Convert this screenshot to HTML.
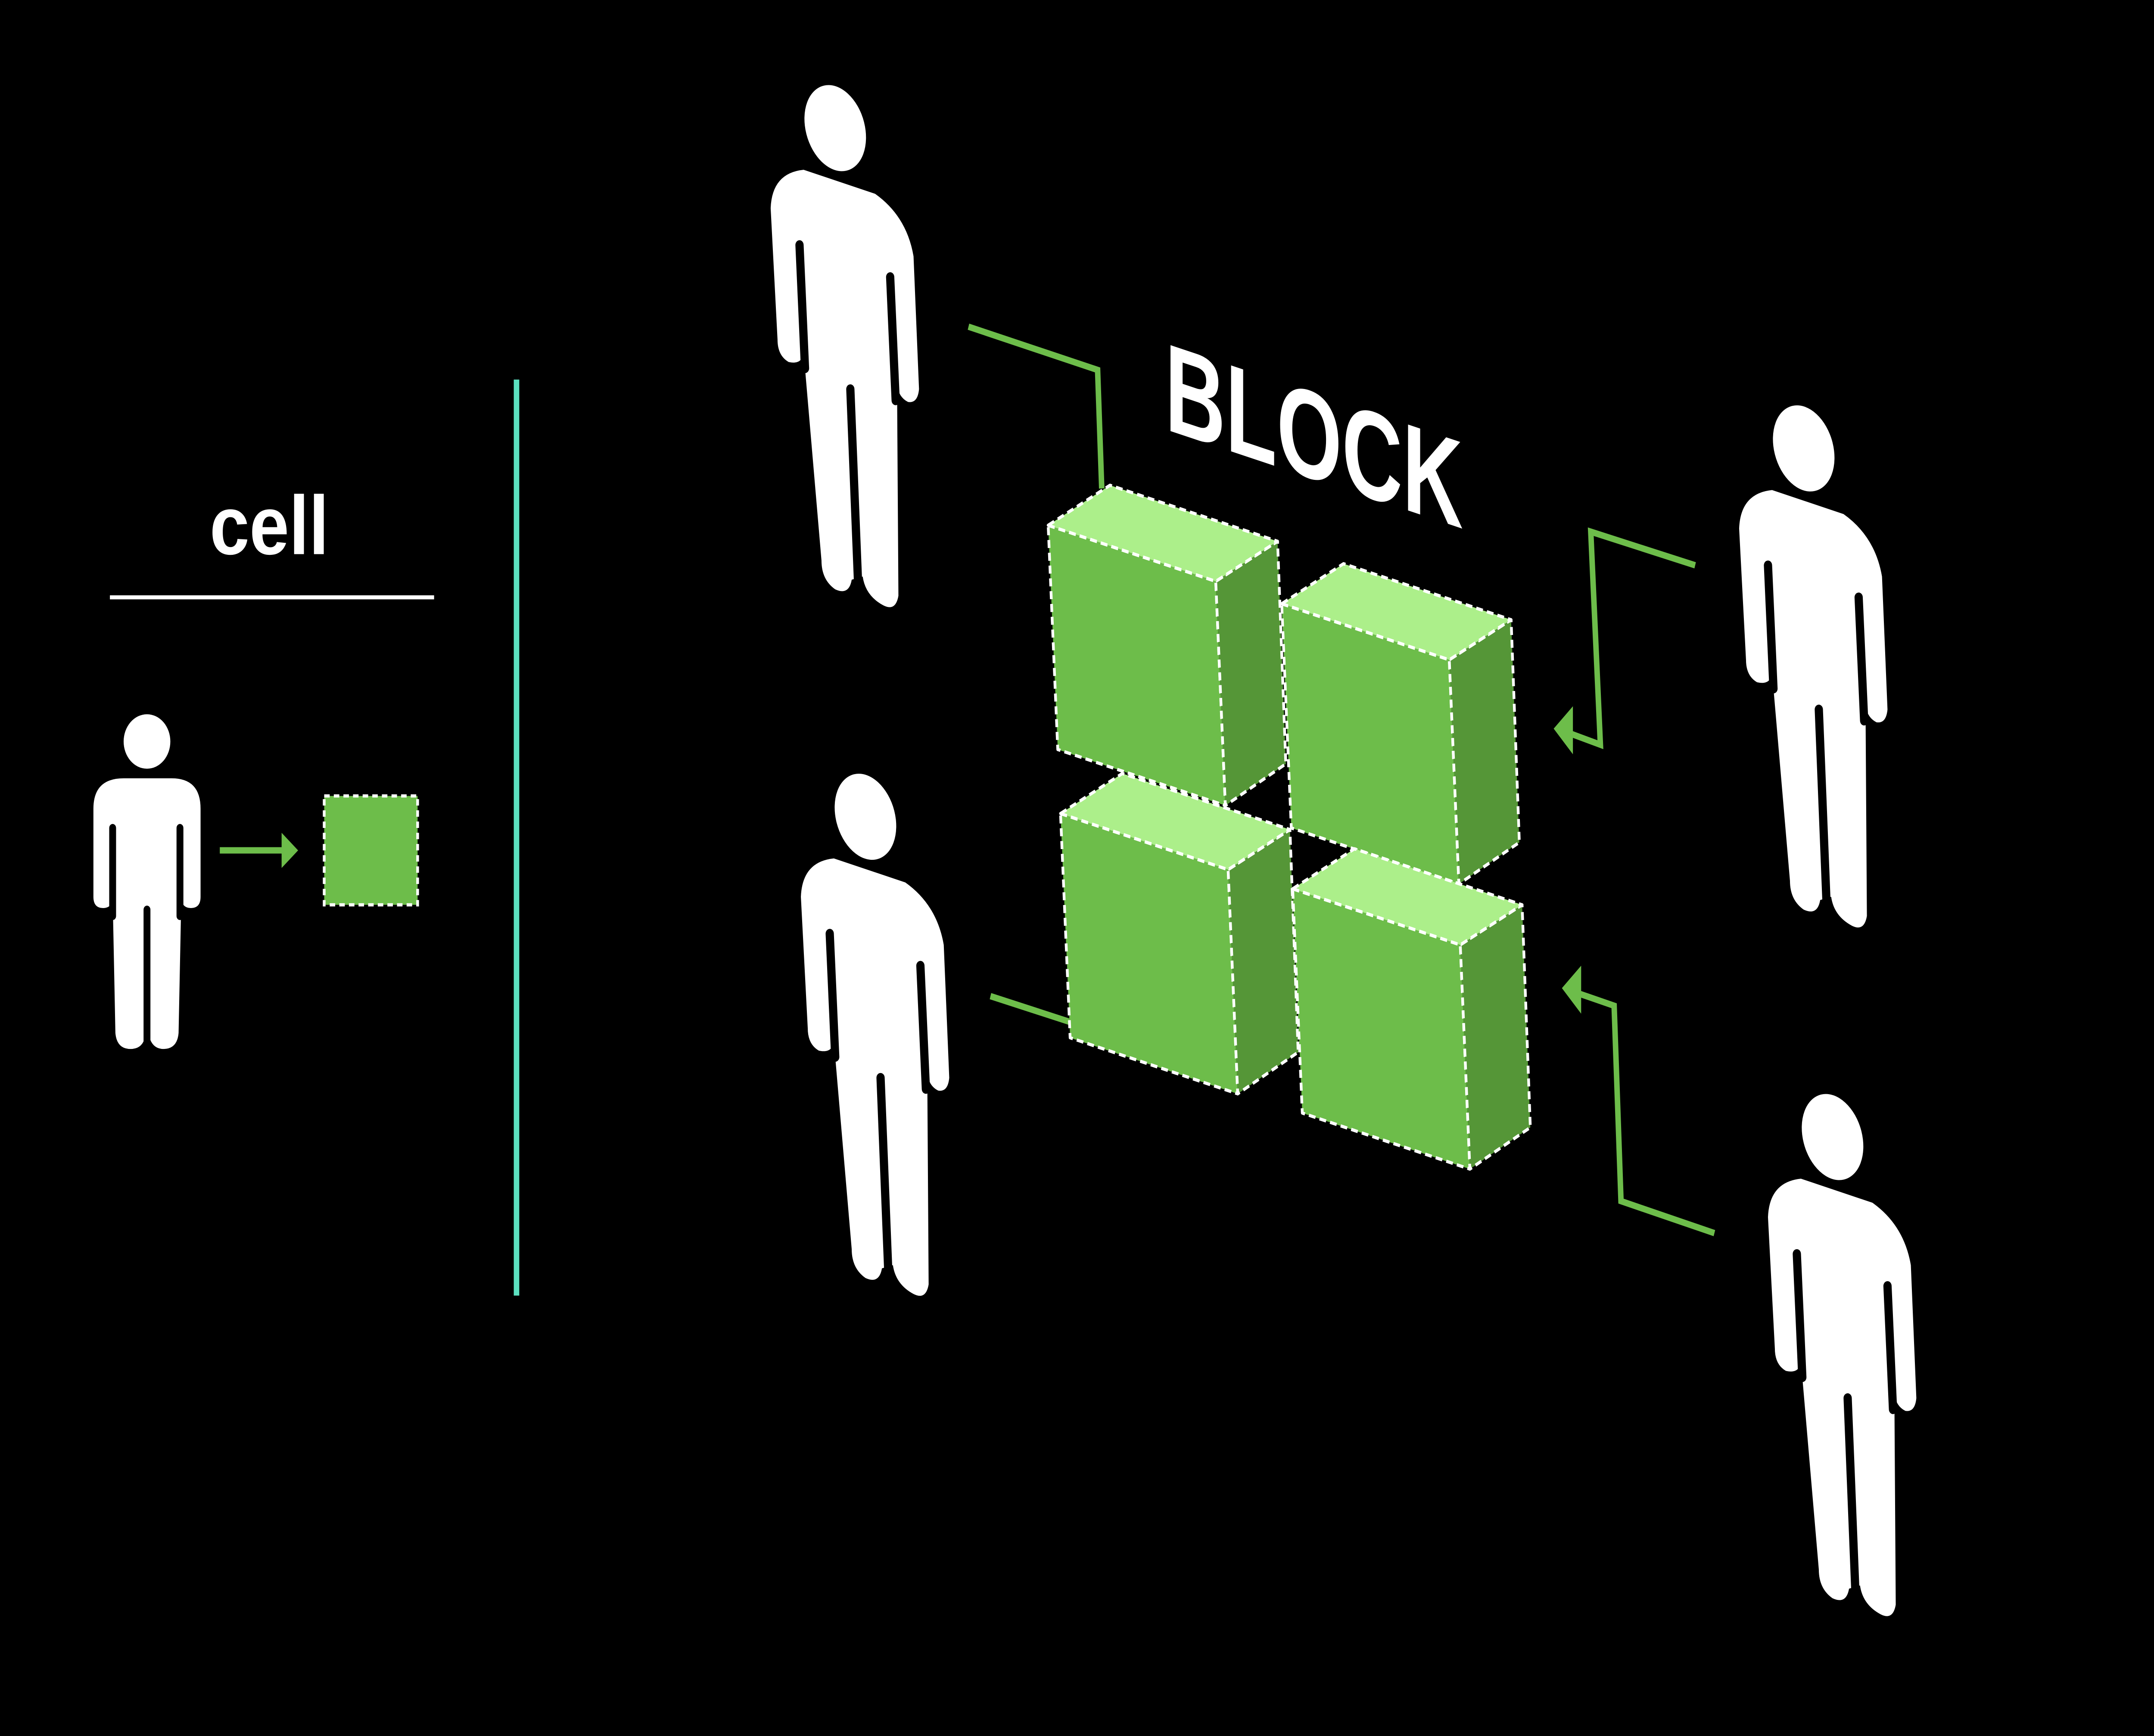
<!DOCTYPE html>
<html><head><meta charset="utf-8"><style>
html,body{margin:0;padding:0;background:#000;overflow:hidden;width:100%;height:100%;}
svg{display:block;position:fixed;left:0;top:0;width:100vw;height:100vh;}
</style></head><body>
<svg viewBox="0 0 1568 1084" preserveAspectRatio="none" xmlns="http://www.w3.org/2000/svg">
<rect width="1568" height="1084" fill="#000"/>
<defs>
<g id="p">
<ellipse cx="608" cy="80" rx="21" ry="28" transform="rotate(-25 608 80)" fill="#fff"/>
<path d="M561,130 Q562,108 585,106 L637,121 Q660,135 665,160 L669,243 Q668,252 661,251 Q654,248 653,240 L654,372 Q652,382 643,378 Q630,372 628,360 L620,362 Q618,372 608,368 Q598,362 598,350 L585,220 Q584,228 574,226 Q566,222 566,212 Z" fill="#fff"/>
<g stroke="#000" stroke-width="6" stroke-linecap="round">
<line x1="582" y1="153" x2="586" y2="230"/>
<line x1="648" y1="173" x2="652" y2="250"/>
<line x1="619" y1="243" x2="625" y2="372"/>
</g>
</g>
<g id="cube" stroke="#fff" stroke-width="2" stroke-dasharray="5,3" stroke-linejoin="round">
<polygon points="763,328 885,363 892,503 770,468" fill="#6dbd4a"/>
<polygon points="885,363 930,338 936,477 892,503" fill="#559637"/>
<polygon points="763,328 808,303 930,338 885,363" fill="#acef8a"/>
</g>
</defs>

<text x="196" y="346" font-family="Liberation Sans, sans-serif" font-weight="bold" font-size="52" fill="#fff" text-anchor="middle">cell</text>
<line x1="80" y1="373" x2="316" y2="373" stroke="#fff" stroke-width="2.5"/>
<circle cx="107" cy="463" r="17" fill="#fff"/>
<path d="M68,505 Q68,486 90,486 L125,486 Q146,486 146,505 L146,560 Q146,567 139,567 Q132,567 132,560 L130,645 Q129,655 119,655 Q110,655 108,645 L106,645 Q105,655 95,655 Q85,655 84,645 L82,560 Q82,567 75,567 Q68,567 68,560 Z" fill="#fff"/>
<g stroke="#000" stroke-width="5" stroke-linecap="round">
<line x1="82" y1="517" x2="82" y2="572"/>
<line x1="131" y1="517" x2="131" y2="572"/>
<line x1="107" y1="568" x2="107" y2="660"/>
</g>
<line x1="160" y1="531" x2="206" y2="531" stroke="#6dbd4a" stroke-width="4"/>
<polygon points="205,520 217,531 205,542" fill="#6dbd4a"/>
<rect x="236" y="497" width="68" height="68" fill="#6dbd4a" stroke="#fff" stroke-width="2" stroke-dasharray="4,3"/>
<line x1="376" y1="237" x2="376" y2="809" stroke="#5ce0c0" stroke-width="4"/>

<g fill="none" stroke="#6dbd4a" stroke-width="4">
<polyline points="705,204 799,231 802,305"/>
<polyline points="721,622 782,639"/>
<polyline points="1234,353 1158,332 1165,465 1143,458"/>
<polyline points="1248,770 1180,750 1175,628 1148,620"/>
</g>
<polygon points="1131,455 1145,441 1145,471" fill="#6dbd4a"/>
<polygon points="1137,617 1151,603 1151,633" fill="#6dbd4a"/>

<use href="#p"/>
<use href="#p" transform="translate(22,430)"/>
<use href="#p" transform="translate(705,200)"/>
<use href="#p" transform="translate(726,630)"/>

<use href="#cube"/>
<use href="#cube" transform="translate(170,49)"/>
<use href="#cube" transform="translate(9,180)"/>
<use href="#cube" transform="translate(178,227)"/>

<g transform="translate(848,268) skewY(16)">
<text x="0" y="0" font-family="Liberation Sans, sans-serif" font-weight="bold" font-size="78" fill="#fff" textLength="217" lengthAdjust="spacingAndGlyphs">BLOCK</text>
</g>
</svg>
</body></html>
